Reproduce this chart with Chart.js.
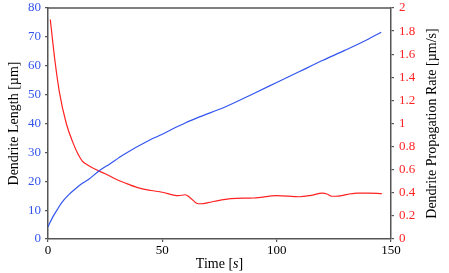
<!DOCTYPE html>
<html>
<head>
<meta charset="utf-8">
<script src="https://cdn.jsdelivr.net/npm/chart.js@4/dist/chart.umd.min.js"></script>
<style>
  html, body { margin: 0; padding: 0; background: #fff; }
  #wrap { width: 449px; height: 273px; }
</style>
</head>
<body>
<div id="wrap"><canvas id="chart"></canvas></div>
<script>
// dendrite length (blue, left axis)
const lengthTime = [0, 2, 4, 6, 9, 12, 15, 18, 22, 27, 33, 44.5, 50, 55.5, 60, 66, 77.4, 90, 100, 110, 120, 130, 140, 145.7];
const lengthValues = [4.2, 7.5, 10.1, 12.6, 15.3, 17.4, 19.3, 20.8, 23.4, 26, 29.2, 34.3, 36.3, 38.5, 40.2, 42.2, 45.7, 50.4, 54.2, 58.0, 61.8, 65.4, 69.2, 71.6];

// propagation rate (red, right axis)
const rateTime = [1, 3, 5, 8, 11, 13, 15, 17, 20, 25, 30, 35, 40, 45, 50, 55, 57, 60, 62, 65, 67, 70, 75, 80, 90, 100, 110, 115, 120, 122, 124, 127, 135, 140, 146];
const rateValues = [1.90, 1.55, 1.27, 1.00, 0.83, 0.74, 0.675, 0.645, 0.61, 0.565, 0.515, 0.475, 0.44, 0.42, 0.405, 0.38, 0.375, 0.383, 0.36, 0.31, 0.305, 0.315, 0.335, 0.35, 0.355, 0.375, 0.366, 0.378, 0.398, 0.39, 0.37, 0.372, 0.398, 0.398, 0.392];

const timeTicks = [0, 50, 100, 150];

const FONT = "'Liberation Serif', 'DejaVu Serif', serif";
const BLUE = "#3355ee";
const RED = "#ff2222";
const AXIS = "#555555";

// titres des axes + bordure haute
const titlesPlugin = {
  id: "titles",
  afterDraw(chart) {
    const ctx = chart.ctx;
    const area = chart.chartArea;
    ctx.save();
    ctx.strokeStyle = AXIS;
    ctx.lineWidth = 1.5;
    ctx.beginPath();
    ctx.moveTo(area.left, area.top);
    ctx.lineTo(area.right, area.top);
    ctx.stroke();

    ctx.fillStyle = "#000";
    ctx.textBaseline = "alphabetic";
    // Time [s] avec s en italique
    const parts = [["Time [", ""], ["s", "italic "], ["]", ""]];
    let total = 0;
    parts.forEach(([t, st]) => {
      ctx.font = st + "14px " + FONT;
      total += ctx.measureText(t).width;
    });
    let x = (area.left + area.right) / 2 - total / 2;
    parts.forEach(([t, st]) => {
      ctx.font = st + "14px " + FONT;
      ctx.textAlign = "left";
      ctx.fillText(t, x, 268);
      x += ctx.measureText(t).width;
    });

    ctx.font = "14px " + FONT;
    ctx.textAlign = "center";
    ctx.save();
    ctx.translate(18, (area.top + area.bottom) / 2);
    ctx.rotate(-Math.PI / 2);
    ctx.fillText("Dendrite Length [\u00b5m]", 0, 0);
    ctx.restore();

    ctx.save();
    ctx.translate(436, (area.top + area.bottom) / 2);
    ctx.rotate(-Math.PI / 2);
    ctx.fillText("Dendrite Propagation Rate [\u00b5m/s]", 0, 0);
    ctx.restore();
    ctx.restore();
  }
};

function axisGrid() {
  return { display: true, drawOnChartArea: false, drawTicks: true, tickLength: 3, color: AXIS, lineWidth: 1.2 };
}

new Chart(document.getElementById("chart"), {
  type: "line",
  data: {
    datasets: [
      {
        label: "Dendrite Length",
        data: lengthTime.map((t, i) => ({ x: t, y: lengthValues[i] })),
        borderColor: BLUE,
        borderWidth: 1.2,
        pointRadius: 0,
        cubicInterpolationMode: "monotone",
        yAxisID: "yL"
      },
      {
        label: "Dendrite Propagation Rate",
        data: rateTime.map((t, i) => ({ x: t, y: rateValues[i] })),
        borderColor: RED,
        borderWidth: 1.2,
        pointRadius: 0,
        cubicInterpolationMode: "monotone",
        yAxisID: "yR"
      }
    ]
  },
  options: {
    responsive: true,
    maintainAspectRatio: false,
    animation: false,
    layout: { padding: { top: 8, left: 0, right: 0, bottom: 0 } },
    plugins: { legend: { display: false }, tooltip: { enabled: false } },
    scales: {
      x: {
        type: "linear",
        min: 0,
        max: 150,
        afterBuildTicks: (s) => { s.ticks = timeTicks.map((v) => ({ value: v })); },
        afterFit: (s) => { s.height = 34; },
        grid: axisGrid(),
        border: { display: true, color: AXIS, width: 1.5 },
        ticks: { color: "#000", font: { family: FONT, size: 13 }, padding: 1, maxRotation: 0 }
      },
      yL: {
        position: "left",
        min: 0,
        max: 80,
        afterFit: (s) => { s.width = 48; s.paddingTop = 0; },
        grid: axisGrid(),
        border: { display: true, color: AXIS, width: 1.5 },
        ticks: { stepSize: 10, color: BLUE, font: { family: FONT, size: 13 }, padding: 4 }
      },
      yR: {
        position: "right",
        min: 0,
        max: 2,
        afterFit: (s) => { s.width = 58; s.paddingTop = 0; },
        grid: axisGrid(),
        border: { display: true, color: AXIS, width: 1.5 },
        ticks: { stepSize: 0.2, color: RED, font: { family: FONT, size: 13 }, padding: 5,
          callback: (v) => String(Math.round(v * 10) / 10) }
      }
    }
  },
  plugins: [titlesPlugin]
});
</script>
</body>
</html>
